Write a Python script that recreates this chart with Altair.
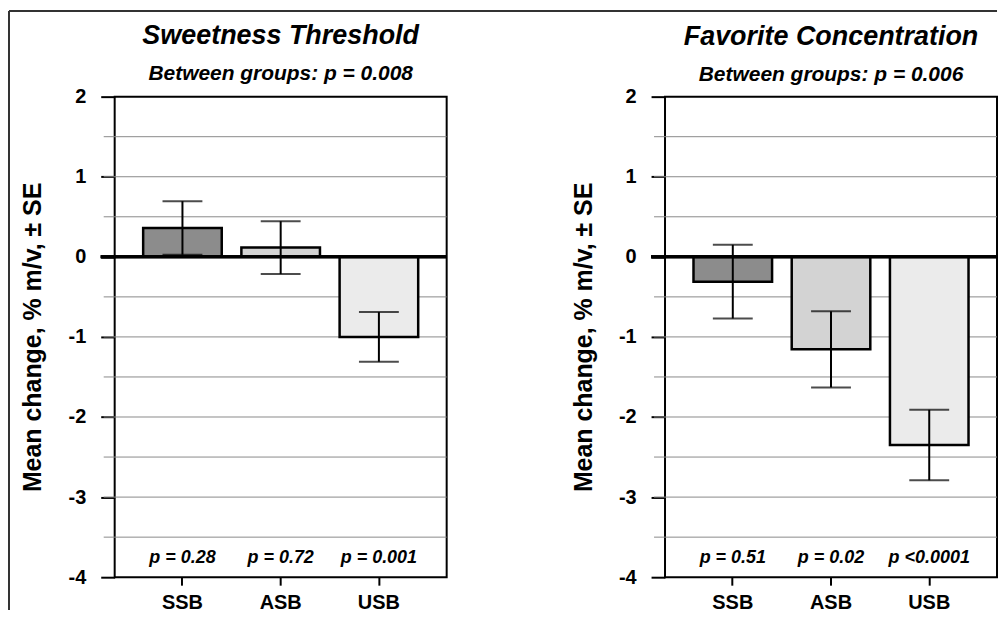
import altair as alt
import pandas as pd

groups = ["SSB", "ASB", "USB"]
colors = ["#8c8c8c", "#d3d3d3", "#ebebeb"]

thr_title = "Sweetness Threshold"
thr_sub = "Between groups: p = 0.008"
thr_mean = [0.36, 0.115, -1.0]
thr_se = [0.335, 0.33, 0.31]
thr_p = ["p = 0.28", "p = 0.72", "p = 0.001"]

fav_title = "Favorite Concentration"
fav_sub = "Between groups: p = 0.006"
fav_mean = [-0.31, -1.155, -2.35]
fav_se = [0.46, 0.475, 0.44]
fav_p = ["p = 0.51", "p = 0.02", "p <0.0001"]

y_ticks = [-4, -3, -2, -1, 0, 1, 2]
grid_vals = [-3.5, -3, -2.5, -2, -1.5, -1, -0.5, 0.5, 1, 1.5]
p_row = -3.76
y_title = "Mean change, % m/v, \u00b1 SE"

FONT = "Liberation Sans"
W, H = 333, 482


def panel(title, sub, means, ses, ps, border=False):
    df = pd.DataFrame({
        "group": groups,
        "mean": means,
        "lo": [m - s for m, s in zip(means, ses)],
        "hi": [m + s for m, s in zip(means, ses)],
        "p": ps,
    })
    gdf = pd.DataFrame({"v": grid_vals})
    yscale = alt.Scale(domain=[-4, 2], nice=False, zero=False)
    xenc = alt.X(
        "group:N", sort=groups,
        scale=alt.Scale(paddingInner=0.2, paddingOuter=0.29),
        axis=alt.Axis(title=None, labelAngle=0, labelFont=FONT, labelFontSize=20,
                      labelFontWeight="bold", labelColor="black", tickSize=8,
                      tickWidth=2, tickColor="black", domain=False, labelPadding=7,
                      grid=False),
    )
    base = alt.Chart(df)

    grid = alt.Chart(gdf).mark_rule(color="#8a8a8a", strokeWidth=1).encode(
        y=alt.Y("v:Q", scale=yscale, axis=alt.Axis(
            title=y_title, titleFont=FONT, titleFontSize=25, titleFontWeight="bold",
            titleColor="black", titleX=-82, titleBaseline="middle",
            values=y_ticks, labelExpr="'' + datum.value", labelFont=FONT,
            labelFontSize=20, labelFontWeight="bold", labelColor="black",
            tickSize=14, tickWidth=2, tickColor="black", labelPadding=15,
            domain=False, grid=False)),
        x=alt.value(-11), x2=alt.value(W),
    )
    bars = base.mark_bar(stroke="black", strokeWidth=2.5).encode(
        x=xenc,
        y=alt.Y("mean:Q", scale=yscale),
        y2=alt.datum(0),
        color=alt.Color("group:N", scale=alt.Scale(domain=groups, range=colors), legend=None),
    )
    zero = base.mark_rule(color="black", strokeWidth=3).encode(
        y=alt.datum(0), x=alt.value(-14), x2=alt.value(W)
    )
    err = base.mark_rule(color="black", strokeWidth=2).encode(
        x=alt.X("group:N", sort=groups), y="lo:Q", y2="hi:Q"
    )
    cap_lo = base.mark_tick(color="black", thickness=2, size=40).encode(
        x=alt.X("group:N", sort=groups), y="lo:Q"
    )
    cap_hi = base.mark_tick(color="black", thickness=2, size=40).encode(
        x=alt.X("group:N", sort=groups), y="hi:Q"
    )
    ptext = base.mark_text(font=FONT, fontSize=18, fontStyle="italic",
                           fontWeight="bold", color="black").encode(
        x=alt.X("group:N", sort=groups), y=alt.datum(p_row), text="p:N"
    )
    layers = [grid, bars, zero, err, cap_lo, cap_hi, ptext]
    dy = 0
    if border:
        dy = 76
        one = alt.Chart(pd.DataFrame({"a": [0]}))
        layers.append(one.mark_rule(color="#333333", strokeWidth=2).encode(
            x=alt.value(-106), y=alt.value(-86), y2=alt.value(515)))
        layers.append(one.mark_rule(color="#333333", strokeWidth=2).encode(
            x=alt.value(-106), x2=alt.value(885), y=alt.value(-86)))
    return alt.layer(*layers).properties(
        width=W, height=H,
        title=alt.Title(text=title, subtitle=sub, font=FONT, fontSize=27,
                        fontStyle="italic", fontWeight="bold", color="black",
                        subtitleFont=FONT, subtitleFontSize=21,
                        subtitleFontStyle="italic", subtitleFontWeight="bold",
                        subtitleColor="black", anchor="middle", offset=1,
                        subtitlePadding=13, frame="group", dy=dy),
    )


left = panel(thr_title, thr_sub, thr_mean, thr_se, thr_p, border=True)
right = panel(fav_title, fav_sub, fav_mean, fav_se, fav_p)

chart = alt.hconcat(left, right, spacing=219, bounds="flush").configure_view(
    stroke="black", strokeWidth=2
).properties(padding={"left": -1, "top": 0, "right": 0, "bottom": 0},
             background="white")

chart.save("out.html", embed_options={"renderer": "svg", "actions": False})
